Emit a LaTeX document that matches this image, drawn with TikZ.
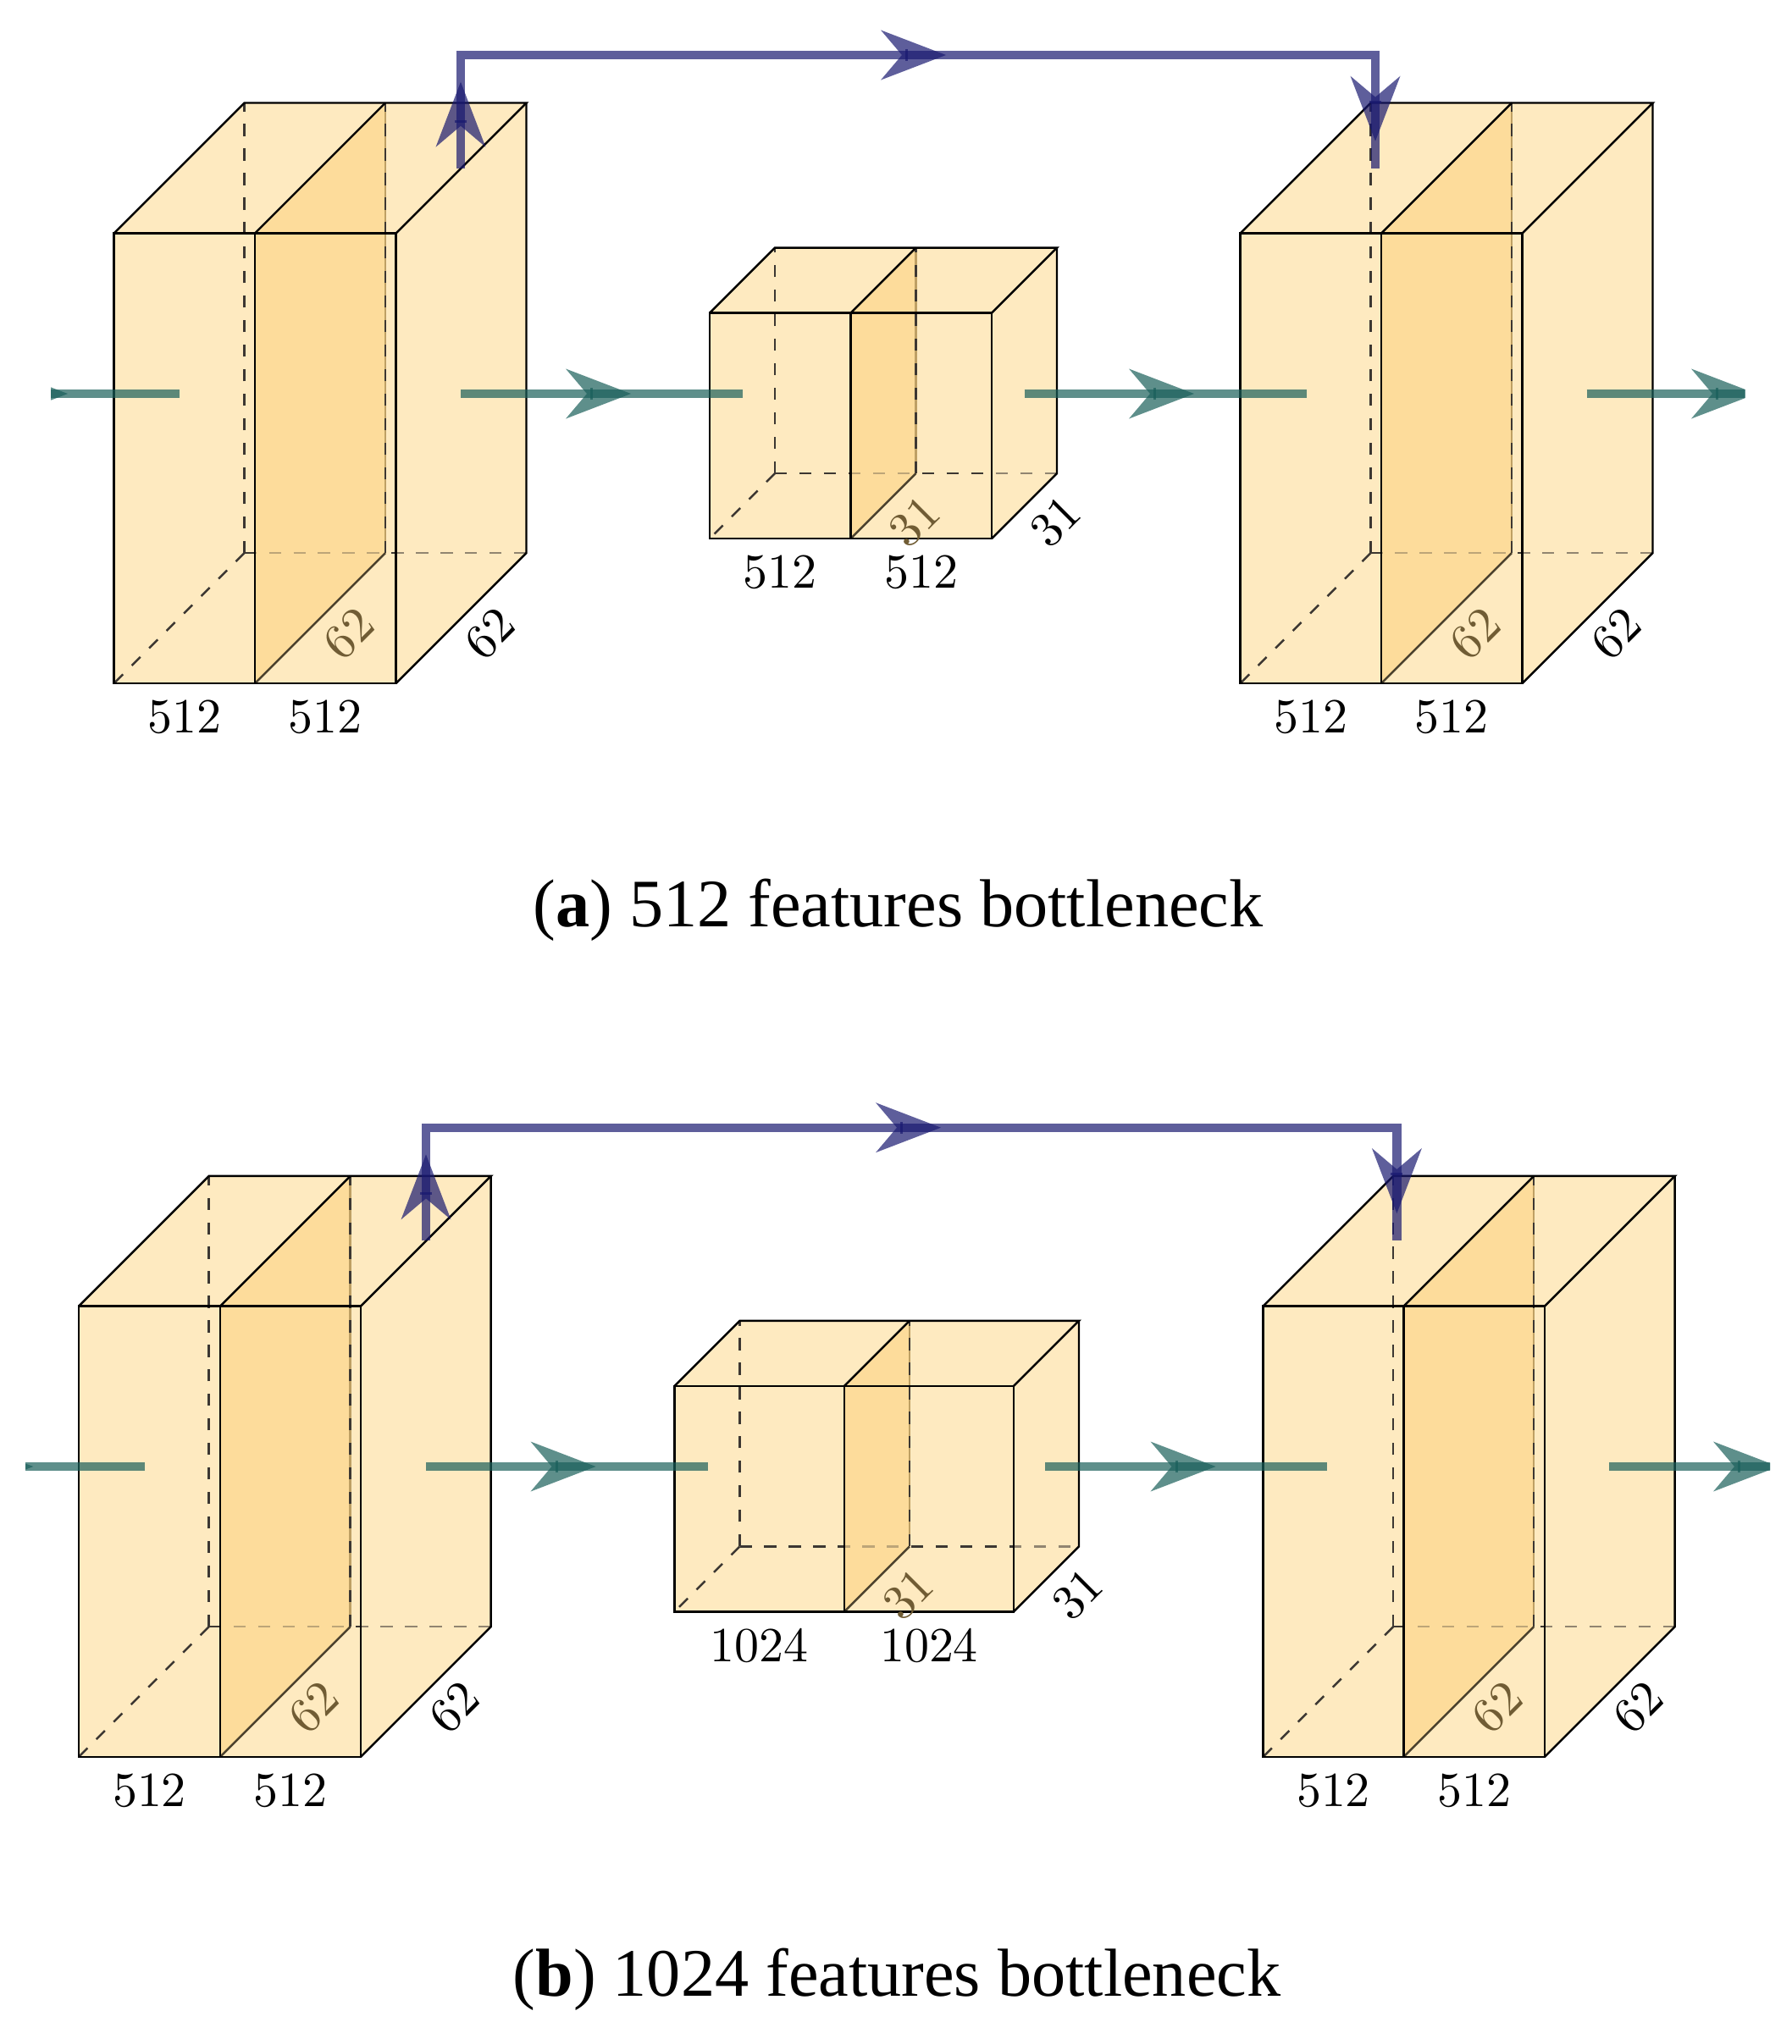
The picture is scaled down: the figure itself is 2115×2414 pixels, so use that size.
\documentclass[tikz,border=0pt]{standalone}
\usepackage{fontspec}
\newfontfamily\capfont{Liberation Serif}
\definecolor{lightface}{RGB}{254,234,192}
\definecolor{darkface}{RGB}{253,220,155}
\definecolor{dashink}{RGB}{60,55,50}
\definecolor{edgetan}{RGB}{190,160,100}
\definecolor{dimink}{RGB}{112,92,52}
\definecolor{planeink}{RGB}{75,65,45}
\definecolor{skipblue}{RGB}{25,25,112}
\definecolor{flowteal}{RGB}{25,95,90}
\tikzset{
  edgeline/.style={black,line width=0.44pt},
  hiddenline/.style={dashink,line width=0.44pt,dash pattern=on 2.55pt off 2.65pt},
  flowline/.style={line width=1.85pt,opacity=0.7},
  dimlabel/.style={dimink,inner sep=0pt,font=\fontsize{10.4}{12}\selectfont},
  toplabel/.style={black,inner sep=0pt,font=\fontsize{10.4}{12}\selectfont},
  captext/.style={black,inner sep=0pt,font=\capfont\fontsize{14.4}{17}\selectfont}
}
% name, x left, x mid, x right, y top, y bottom, depth, width label, depth label
\newcommand\slab[9]{%
  \coordinate (#1fl) at (#2,#6); \coordinate (#1fm) at (#3,#6); \coordinate (#1fr) at (#4,#6);
  \coordinate (#1tl) at (#2,#5); \coordinate (#1tm) at (#3,#5); \coordinate (#1tr) at (#4,#5);
  \coordinate (#1bfl) at ({#2+#7},{#6-#7}); \coordinate (#1bfm) at ({#3+#7},{#6-#7}); \coordinate (#1bfr) at ({#4+#7},{#6-#7});
  \coordinate (#1btl) at ({#2+#7},{#5-#7}); \coordinate (#1btm) at ({#3+#7},{#5-#7}); \coordinate (#1btr) at ({#4+#7},{#5-#7});
  \fill[lightface] (#1fl)--(#1tl)--(#1btl)--(#1btr)--(#1bfr)--(#1fr)--cycle;
  \fill[darkface] (#1fm)--(#1tm)--(#1btm)--(#1bfm)--cycle;
  \draw[hiddenline] (#1bfl)--(#1btl);
  \draw[hiddenline] (#1bfl)--(#1bfr);
  \draw[hiddenline] (#1bfl)--(#1fl);
  \fill[darkface,opacity=0.67] (#1fm)--(#1tm)--(#1btm)--(#1bfm)--cycle;
  \fill[lightface,opacity=0.44] (#1fr)--(#1tr)--(#1btr)--(#1bfr)--cycle;
  \draw[edgetan,line width=0.44pt] (#1bfm)--(#1btm);
  \draw[hiddenline] (#1bfm)--(#1btm);
  \draw[planeink,line width=0.44pt] (#1fm)--(#1bfm);
  \draw[edgeline] (#1tl) rectangle (#1fr);
  \draw[edgeline] (#1tm)--(#1fm);
  \draw[edgeline] (#1tl)--(#1btl)--(#1btr)--(#1tr);
  \draw[edgeline] (#1tm)--(#1btm);
  \draw[edgeline] (#1btr)--(#1bfr)--(#1fr);
  \node[toplabel] (#1wa) at ({(#2+#3)/2},{#6+40}) {#8};
  \node[toplabel] (#1wb) at ({(#3+#4)/2},{#6+40}) {#8};
  \node[dimlabel,rotate=45] (#1da) at ({#3+#7/2+40-0.04*#7},{#6-#7/2+18.5}) {#9};
  \node[toplabel,rotate=45] (#1db) at ({#4+#7/2+40-0.04*#7},{#6-#7/2+18.5}) {#9};
}
% tip position, angle, colour
\newcommand\flowtip[3]{%
  \begin{scope}[shift={#1},rotate=#2]
    \fill[#3,opacity=0.7] (0,0)--(-77,29.5)--(-52,0)--(-77,-29.5)--cycle;
    \fill[#3,opacity=0.7] (-48,-7) rectangle (-45,7);
  \end{scope}}
\begin{document}
\begin{tikzpicture}[x=0.17953pt,y=-0.17953pt]
\useasboundingbox (0,0) rectangle (2115,2414);
% ---------- (a)
\begin{scope}
  \clip (60,0) rectangle (2060.7,1200);
  \slab{aa}{134.6}{301}{467.5}{275.5}{807}{154}{512}{62}
  \slab{ab}{838}{1004.5}{1171}{369.7}{636}{77}{512}{31}
  \slab{ac}{1464.5}{1631}{1797.5}{275.5}{807}{154}{512}{62}
  \coordinate (as1) at (-121,465); \coordinate (ae1) at (211.7,465);
  \coordinate (as2) at (544,465);  \coordinate (ae2) at (877,465);
  \coordinate (as3) at (1209.5,465); \coordinate (ae3) at (1542.5,465);
  \coordinate (as4) at (1873.5,465); \coordinate (ae4) at (2206,465);
  \draw[flowline,flowteal] (as1)--(ae1);
  \draw[flowline,flowteal] (as2)--(ae2);
  \draw[flowline,flowteal] (as3)--(ae3);
  \draw[flowline,flowteal] (as4)--(ae4);
  \flowtip{(80,465)}{0}{flowteal}
  \flowtip{(745,465)}{0}{flowteal}
  \flowtip{(1410,465)}{0}{flowteal}
  \flowtip{(2074,465)}{0}{flowteal}
  \coordinate (ab1) at (544,199); \coordinate (ab2) at (544,65);
  \coordinate (ab3) at (1624,65); \coordinate (ab4) at (1624,199);
  \draw[flowline,skipblue,line join=miter] (ab1)--(ab2)--(ab3)--(ab4);
  \flowtip{(544,96.7)}{90}{skipblue}
  \flowtip{(1117,65)}{0}{skipblue}
  \flowtip{(1624,166.7)}{-90}{skipblue}
\end{scope}
\node[captext] (capa) at (1060.5,1075) {(\textbf{a}) 512 features bottleneck};
% ---------- (b)
\begin{scope}
  \clip (30,1200) rectangle (2090,2414);
  \slab{ba}{93}{260}{426}{1542.5}{2074.8}{153.7}{512}{62}
  \slab{bb}{796.5}{997}{1197}{1636.8}{1903.3}{77}{1024}{31}
  \slab{bc}{1491.5}{1657.5}{1824}{1542.5}{2074.8}{153.7}{512}{62}
  \coordinate (bs1) at (-162,1732); \coordinate (be1) at (171,1732);
  \coordinate (bs2) at (503,1732);  \coordinate (be2) at (835.5,1732);
  \coordinate (bs3) at (1234,1732); \coordinate (be3) at (1567,1732);
  \coordinate (bs4) at (1900,1732); \coordinate (be4) at (2232,1732);
  \draw[flowline,flowteal] (bs1)--(be1);
  \draw[flowline,flowteal] (bs2)--(be2);
  \draw[flowline,flowteal] (bs3)--(be3);
  \draw[flowline,flowteal] (bs4)--(be4);
  \flowtip{(39.3,1732)}{0}{flowteal}
  \flowtip{(703.5,1732)}{0}{flowteal}
  \flowtip{(1435.5,1732)}{0}{flowteal}
  \flowtip{(2100,1732)}{0}{flowteal}
  \coordinate (bb1) at (503,1465); \coordinate (bb2) at (503,1331.7);
  \coordinate (bb3) at (1649.4,1331.7); \coordinate (bb4) at (1649.4,1465);
  \draw[flowline,skipblue,line join=miter] (bb1)--(bb2)--(bb3)--(bb4);
  \flowtip{(503,1363.4)}{90}{skipblue}
  \flowtip{(1111,1331.7)}{0}{skipblue}
  \flowtip{(1649.4,1433)}{-90}{skipblue}
\end{scope}
\node[captext] (capb) at (1059,2338) {(\textbf{b}) 1024 features bottleneck};
\end{tikzpicture}
\end{document}
